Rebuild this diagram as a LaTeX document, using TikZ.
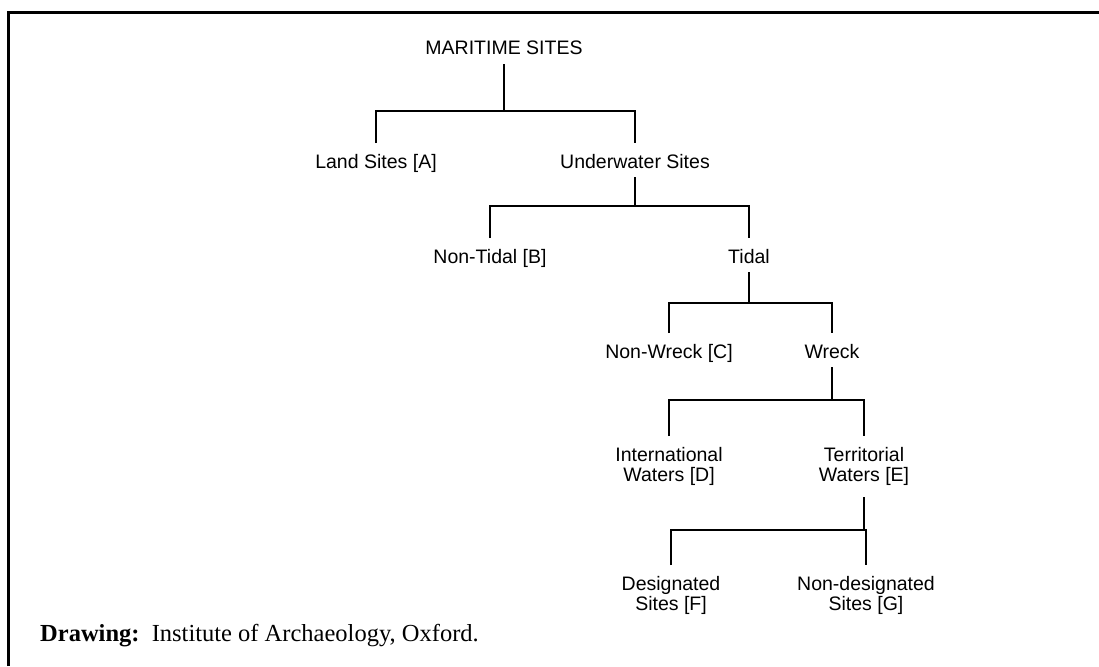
\documentclass[tikz,border=0pt]{standalone}
\usepackage{fontspec}
\setmainfont{Liberation Serif}
\newfontfamily\labelfont{Liberation Sans}
\usepackage{tikz}

\begin{document}
\begin{tikzpicture}[
    x=1pt, y=-1pt,
    site/.style   = {font=\labelfont\fontsize{19.5}{20.5}\selectfont, inner xsep=2pt, inner ysep=4pt, text height=21pt, text depth=5pt},
    site2/.style  = {font=\labelfont\fontsize{19.5}{20.5}\selectfont, align=center, inner xsep=2pt, inner ysep=11pt, anchor=north},
    credit/.style = {font=\fontsize{24.5}{26}\selectfont, inner sep=0pt, anchor=base west},
    tree/.style   = {line width=1.2pt},
    frame/.style  = {line width=3pt}
]
\useasboundingbox (0,0) rectangle (1099,666);

% ---- Frame ----
\draw[frame] (8,666) -- (8,13) -- (1099,13);

% ---- Sites ----
\node[site]                (ms)       at (504,47)  {MARITIME SITES};
\node[site, anchor=north]  (land)     at (376,143) {Land Sites [A]};
\node[site, anchor=north]  (under)    at (635,143) {Underwater Sites};
\node[site, anchor=north]  (nontidal) at (490,238) {Non-Tidal [B]};
\node[site, anchor=north]  (tidal)    at (749,238) {Tidal};
\node[site, anchor=north]  (nonwreck) at (669,333) {Non-Wreck [C]};
\node[site, anchor=north]  (wreck)    at (832,333) {Wreck};
\node[site2]               (intl)     at (669,436) {International\\Waters [D]};
\node[site2]               (terr)     at (864,436) {Territorial\\Waters [E]};
\node[site2]               (desig)    at (671,565) {Designated\\Sites [F]};
\node[site2]               (nondesig) at (866,565) {Non-designated\\Sites [G]};

% ---- Junctions ----
\coordinate (j1) at (504,111);
\coordinate (j2) at (635,206);
\coordinate (j3) at (749,303);
\coordinate (j4) at (832,400);
\coordinate (j5) at (864,530);

% ---- Tree lines ----
\draw[tree] (ms.south)       -- (j1);
\draw[tree] (land.north)     |- (j1) -| (under.north);
\draw[tree] (under.south)    -- (j2);
\draw[tree] (nontidal.north) |- (j2) -| (tidal.north);
\draw[tree] (tidal.south)    -- (j3);
\draw[tree] (nonwreck.north) |- (j3) -| (wreck.north);
\draw[tree] (wreck.south)    -- (j4);
\draw[tree] (intl.north)     |- (j4) -| (terr.north);
\draw[tree] (terr.south)     -- (j5);
\draw[tree] (desig.north)    |- (j5) -| (nondesig.north);

% ---- Credit ----
\node[credit] (drawing) at (40,641) {\textbf{Drawing:}\hspace{0.5em}Institute of Archaeology, Oxford.};

\end{tikzpicture}
\end{document}
